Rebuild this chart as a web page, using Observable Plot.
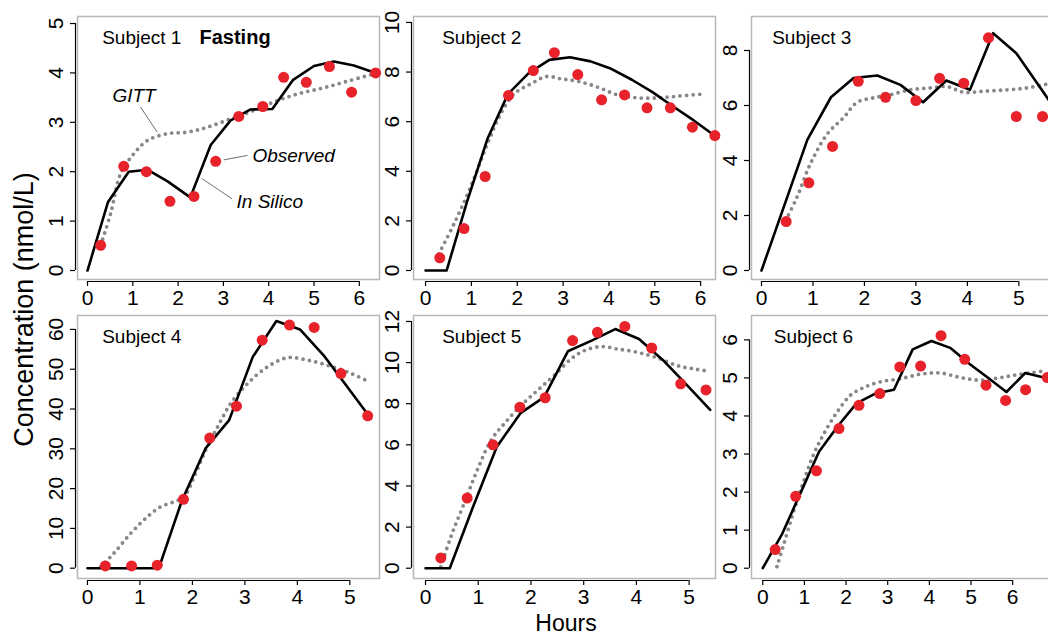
<!DOCTYPE html>
<html>
<head>
<meta charset="utf-8">
<script src="https://cdn.jsdelivr.net/npm/d3@7"></script>
<script src="https://cdn.jsdelivr.net/npm/@observablehq/plot@0.6"></script>
<style>
  body { margin: 0; background: #fff; }
  #wrap { position: relative; width: 1048px; height: 636px; overflow: hidden; font-family: "Liberation Sans", Arial, sans-serif; color: #000; }
  .panel { position: absolute; }
  #xlab { position: absolute; left: 366px; top: 612px; width: 400px; text-align: center; font-size: 23px; line-height: 1; }
  #ylab { position: absolute; left: -176.4px; top: 295.5px; width: 400px; text-align: center; font-size: 27px; line-height: 1; transform: rotate(-90deg); transform-origin: 50% 50%; white-space: nowrap; }
</style>
</head>
<body>
<div id="wrap"></div>
<script>
// ---------------- data ----------------
const subjects = ["Subject 1", "Subject 2", "Subject 3", "Subject 4", "Subject 5", "Subject 6"];
const panelTitle = "Fasting";
const xAxisTitle = "Hours";
const yAxisTitle = "Concentration (nmol/L)";

// Observed (red points): [hours, nmol/L]
const obs1 = [[0.29,0.51],[0.80,2.11],[1.30,2.00],[1.82,1.40],[2.35,1.50],[2.83,2.21],[3.34,3.12],[3.87,3.32],[4.33,3.91],[4.83,3.81],[5.34,4.13],[5.83,3.61],[6.36,4.00]];
const obs2 = [[0.31,0.51],[0.84,1.69],[1.30,3.79],[1.81,7.06],[2.35,8.06],[2.81,8.78],[3.32,7.90],[3.84,6.88],[4.34,7.08],[4.83,6.56],[5.34,6.56],[5.82,5.78],[6.31,5.44]];
const obs3 = [[0.48,1.78],[0.92,3.19],[1.38,4.51],[1.88,6.88],[2.41,6.30],[3.00,6.18],[3.46,6.99],[3.93,6.81],[4.41,8.46],[4.95,5.60],[5.46,5.60]];
const obs4 = [[0.34,0.58],[0.84,0.58],[1.33,0.75],[1.83,17.3],[2.33,32.7],[2.84,40.7],[3.33,57.3],[3.85,61.1],[4.32,60.5],[4.83,48.9],[5.34,38.3]];
const obs5 = [[0.29,0.50],[0.79,3.41],[1.28,6.00],[1.79,7.83],[2.27,8.29],[2.79,11.07],[3.26,11.47],[3.78,11.76],[4.29,10.71],[4.84,8.97],[5.32,8.67]];
const obs6 = [[0.30,0.49],[0.79,1.89],[1.29,2.56],[1.83,3.67],[2.31,4.28],[2.81,4.59],[3.29,5.29],[3.79,5.31],[4.28,6.11],[4.85,5.49],[5.36,4.81],[5.83,4.41],[6.31,4.69],[6.83,5.01]];

// In Silico (black line)
const sil1 = [[0,0],[0.45,1.38],[0.91,2.00],[1.32,2.04],[1.76,1.81],[2.27,1.48],[2.72,2.54],[3.16,3.04],[3.60,3.26],[4.08,3.27],[4.54,3.86],[5.00,4.14],[5.44,4.23],[5.88,4.15],[6.36,4.00]];
const sil2 = [[0,0],[0.46,0],[0.90,2.75],[1.35,5.31],[1.80,7.12],[2.25,7.96],[2.70,8.49],[3.15,8.60],[3.60,8.43],[4.05,8.13],[4.50,7.69],[4.95,7.19],[5.40,6.61],[5.85,6.05],[6.30,5.44]];
const sil3 = [[0,0],[0.89,4.75],[1.35,6.30],[1.79,7.00],[2.25,7.09],[2.70,6.75],[3.14,6.12],[3.59,6.91],[4.05,6.57],[4.50,8.63],[4.95,7.90],[5.40,6.69],[5.85,5.47]];
const sil4 = [[0,0],[1.36,0],[1.80,17.0],[2.25,30.1],[2.70,37.2],[3.15,53.1],[3.60,62.1],[4.05,60.0],[4.50,53.5],[4.95,45.6],[5.40,37.6]];
const sil5 = [[0,0],[0.46,0],[0.90,2.98],[1.35,5.89],[1.80,7.54],[2.25,8.32],[2.70,10.55],[3.15,11.07],[3.60,11.63],[4.05,11.15],[4.50,10.13],[4.95,8.93],[5.40,7.70]];
const sil6 = [[0,0],[0.47,0.91],[0.90,1.96],[1.35,3.06],[1.80,3.73],[2.25,4.33],[2.70,4.59],[3.15,4.69],[3.60,5.75],[4.05,5.97],[4.50,5.79],[4.95,5.38],[5.40,5.01],[5.85,4.63],[6.30,5.13],[6.75,5.01],[7.10,4.95]];

// GITT (grey dotted curve)
const gitt1 = [[0.29,0.51],[0.51,1.15],[0.73,1.96],[1.02,2.36],[1.32,2.63],[1.76,2.77],[2.20,2.80],[2.64,2.90],[3.16,3.07],[3.67,3.24],[4.19,3.44],[4.70,3.59],[5.22,3.70],[5.73,3.83],[6.32,3.98]];
const gitt2 = [[0.29,0.67],[0.62,1.88],[0.98,3.36],[1.35,5.11],[1.64,6.32],[1.93,7.12],[2.30,7.53],[2.64,7.82],[2.95,7.73],[3.32,7.63],[3.76,7.39],[4.19,7.08],[4.63,6.96],[5.07,6.96],[5.51,7.03],[6.09,7.12]];
const gitt3 = [[0.47,1.82],[0.69,2.67],[0.95,3.88],[1.28,4.97],[1.60,5.57],[1.86,6.12],[2.18,6.28],[2.50,6.39],[2.89,6.57],[3.28,6.64],[3.60,6.69],[3.93,6.48],[4.32,6.52],[4.77,6.57],[5.16,6.64],[5.55,6.78]];
const gitt4 = [[0.25,0.3],[0.50,3.7],[0.82,8.7],[1.14,12.9],[1.39,15.4],[1.65,16.7],[1.84,17.9],[2.03,22.9],[2.25,29.6],[2.48,35.5],[2.73,41.4],[3.05,46.4],[3.43,50.6],[3.81,52.9],[4.19,52.3],[4.57,51.0],[4.96,49.3],[5.34,47.0]];
const gitt5 = [[0.29,0.06],[0.48,1.52],[0.73,3.14],[0.98,4.76],[1.24,6.21],[1.49,7.02],[1.81,7.91],[2.12,8.64],[2.44,9.37],[2.76,10.18],[3.01,10.58],[3.33,10.78],[3.64,10.66],[4.02,10.50],[4.40,10.23],[4.78,9.85],[5.10,9.69],[5.40,9.57]];
const gitt6 = [[0.34,0.04],[0.51,0.65],[0.75,1.52],[0.99,2.31],[1.23,3.01],[1.47,3.54],[1.79,4.11],[2.11,4.55],[2.43,4.75],[2.83,4.90],[3.31,4.98],[3.79,5.10],[4.27,5.13],[4.75,5.01],[5.23,4.94],[5.71,5.01],[6.19,5.10],[6.75,5.18]];

// Tick values
const xTicks = [[0,1,2,3,4,5,6],[0,1,2,3,4,5,6],[0,1,2,3,4,5],[0,1,2,3,4,5],[0,1,2,3,4,5],[0,1,2,3,4,5,6]];
const yTicks = [[0,1,2,3,4,5],[0,2,4,6,8,10],[0,2,4,6,8],[0,10,20,30,40,50,60],[0,2,4,6,8,10,12],[0,1,2,3,4,5,6]];

// Annotations in panel 1
const annotLabels = ["GITT", "Observed", "In Silico"];
const annotAt = [[0.55,3.53],[3.64,2.33],[3.29,1.38]];
const leaderFrom = [[1.17,3.31],[3.01,2.24],[2.53,1.86]];
const leaderTo = [[1.54,2.80],[3.53,2.33],[3.19,1.45]];

// ---------------- layout ----------------
const obsAll = [obs1, obs2, obs3, obs4, obs5, obs6];
const silAll = [sil1, sil2, sil3, sil4, sil5, sil6];
const gittAll = [gitt1, gitt2, gitt3, gitt4, gitt5, gitt6];

const W = 302, H = 263, ML = 50, MT = 10, MR = 10, MB = 40;
const layout = [
  {bx: 77,  by: 16,  xd: [-0.221, 6.446], yd: [-0.182, 5.142], lx: 24.7},
  {bx: 413, by: 16,  xd: [-0.263, 6.324], yd: [-0.363, 10.24], lx: 28.7},
  {bx: 751, by: 16,  xd: [-0.194, 5.673], yd: [-0.327, 9.236], lx: 20.7},
  {bx: 77,  by: 315, xd: [-0.19, 5.565],  yd: [-2.59, 63.5],   lx: 24.7},
  {bx: 413, by: 315, xd: [-0.228, 5.50],  yd: [-0.5, 12.29],   lx: 28.7},
  {bx: 751, by: 315, xd: [-0.27, 6.98],   yd: [-0.27, 6.64],   lx: 22.3}
];

const wrap = document.getElementById("wrap");
const FONT = "Liberation Sans, Arial, Helvetica, sans-serif";

layout.forEach((L, i) => {
  const xt = xTicks[i], yt = yTicks[i];
  const marks = [
    Plot.frame({stroke: "#b8b8b8", strokeWidth: 1.5}),
    Plot.ruleX([L.xd[0]], {y1: yt[0], y2: yt[yt.length - 1], dx: -2, stroke: "#000", strokeWidth: 1.2}),
    Plot.ruleY([L.yd[0]], {x1: xt[0], x2: xt[xt.length - 1], dy: 2, stroke: "#000", strokeWidth: 1.2}),
    Plot.axisX(xt, {tickSize: 5, dy: 2, tickPadding: 3.5, label: null, fontSize: 21, strokeWidth: 1.2}),
    Plot.axisY(yt, {tickSize: 5, dx: -2, tickRotate: -90, tickPadding: 7.5, label: null, fontSize: 21, strokeWidth: 1.2}),
    Plot.line(gittAll[i], {x: d => d[0], y: d => d[1], curve: "catmull-rom", stroke: "#878787", strokeWidth: 3.8, strokeDasharray: "0 6.5", strokeLinecap: "round"}),
    Plot.line(silAll[i], {x: d => d[0], y: d => d[1], stroke: "#000", strokeWidth: 2.6, strokeLinejoin: "round"}),
    Plot.dot(obsAll[i], {x: d => d[0], y: d => d[1], r: 5.5, fill: "#e8222a", stroke: "none"}),
    Plot.text([subjects[i]], {text: d => d, frameAnchor: "top-left", dx: L.lx, dy: 27.5, lineAnchor: "bottom", textAnchor: "start", fontSize: 19})
  ];
  if (i === 0) {
    marks.push(
      Plot.text([panelTitle], {text: d => d, frameAnchor: "top-left", dx: 122, dy: 27.5, lineAnchor: "bottom", textAnchor: "start", fontSize: 20, fontWeight: "bold"}),
      Plot.link(annotLabels.map((_, k) => k), {x1: k => leaderFrom[k][0], y1: k => leaderFrom[k][1], x2: k => leaderTo[k][0], y2: k => leaderTo[k][1], stroke: "#6e6e6e", strokeWidth: 1}),
      Plot.text(annotLabels.map((_, k) => k), {x: k => annotAt[k][0], y: k => annotAt[k][1], text: k => annotLabels[k], textAnchor: "start", lineAnchor: "middle", fontSize: 19, fontStyle: "italic"})
    );
  }
  const svg = Plot.plot({
    width: ML + W + MR,
    height: MT + H + MB,
    marginLeft: ML, marginRight: MR, marginTop: MT, marginBottom: MB,
    x: {domain: L.xd},
    y: {domain: L.yd},
    style: {fontFamily: FONT, fontSize: "21px", background: "transparent", overflow: "visible", color: "#000"},
    marks
  });
  svg.classList.add("panel");
  svg.style.left = (L.bx - ML) + "px";
  svg.style.top = (L.by - MT) + "px";
  wrap.appendChild(svg);
});

const xl = document.createElement("div");
xl.id = "xlab"; xl.textContent = xAxisTitle; wrap.appendChild(xl);
const yl = document.createElement("div");
yl.id = "ylab"; yl.textContent = yAxisTitle; wrap.appendChild(yl);
</script>
</body>
</html>
